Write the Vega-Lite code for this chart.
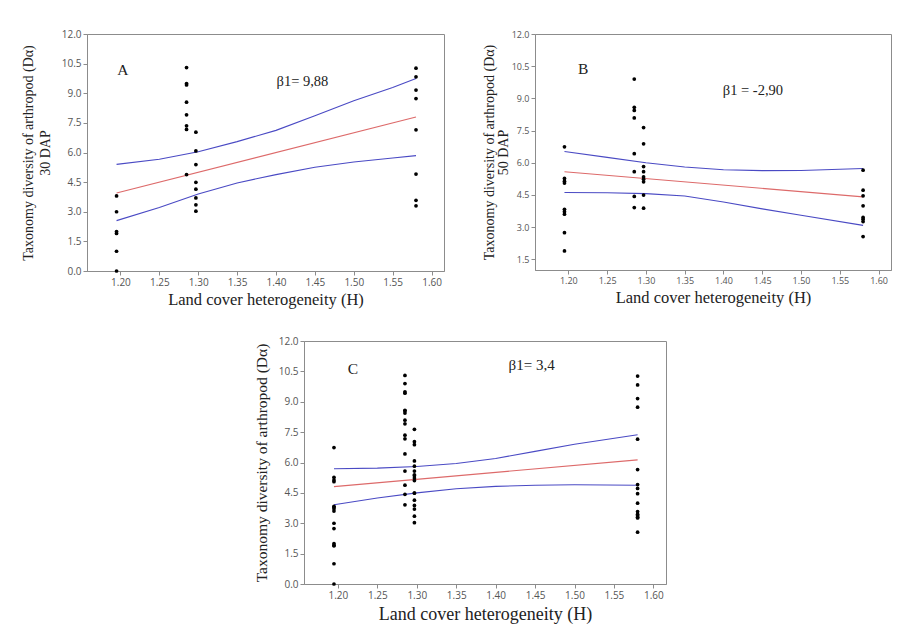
{
  "$schema": "https://vega.github.io/schema/vega-lite/v6.json",
  "background": "white",
  "padding": {"left": 20, "top": 28, "right": 5, "bottom": 5},
  "datasets": {
    "pts": [
      {"panel": "A", "H": 1.195, "D": 3.8}, {"panel": "A", "H": 1.195, "D": 3.0}, {"panel": "A", "H": 1.195, "D": 2.0}, {"panel": "A", "H": 1.195, "D": 1.9}, {"panel": "A", "H": 1.195, "D": 1.0}, {"panel": "A", "H": 1.195, "D": 0.0},
      {"panel": "A", "H": 1.285, "D": 10.3}, {"panel": "A", "H": 1.285, "D": 9.49}, {"panel": "A", "H": 1.285, "D": 9.42}, {"panel": "A", "H": 1.285, "D": 8.55}, {"panel": "A", "H": 1.285, "D": 7.91}, {"panel": "A", "H": 1.285, "D": 7.35}, {"panel": "A", "H": 1.285, "D": 7.17}, {"panel": "A", "H": 1.285, "D": 4.88},
      {"panel": "A", "H": 1.297, "D": 7.03}, {"panel": "A", "H": 1.297, "D": 6.08}, {"panel": "A", "H": 1.297, "D": 5.39}, {"panel": "A", "H": 1.297, "D": 4.49}, {"panel": "A", "H": 1.297, "D": 4.14}, {"panel": "A", "H": 1.297, "D": 3.7}, {"panel": "A", "H": 1.297, "D": 3.35}, {"panel": "A", "H": 1.297, "D": 3.03},
      {"panel": "A", "H": 1.58, "D": 10.27}, {"panel": "A", "H": 1.58, "D": 9.83}, {"panel": "A", "H": 1.58, "D": 9.16}, {"panel": "A", "H": 1.58, "D": 8.73}, {"panel": "A", "H": 1.58, "D": 7.15}, {"panel": "A", "H": 1.58, "D": 4.91}, {"panel": "A", "H": 1.58, "D": 3.58}, {"panel": "A", "H": 1.58, "D": 3.3},
      {"panel": "B", "H": 1.195, "D": 6.74}, {"panel": "B", "H": 1.195, "D": 5.27}, {"panel": "B", "H": 1.195, "D": 5.14}, {"panel": "B", "H": 1.195, "D": 5.05}, {"panel": "B", "H": 1.195, "D": 3.83}, {"panel": "B", "H": 1.195, "D": 3.72}, {"panel": "B", "H": 1.195, "D": 3.6}, {"panel": "B", "H": 1.195, "D": 2.74}, {"panel": "B", "H": 1.195, "D": 1.89},
      {"panel": "B", "H": 1.285, "D": 9.9}, {"panel": "B", "H": 1.285, "D": 8.58}, {"panel": "B", "H": 1.285, "D": 8.44}, {"panel": "B", "H": 1.285, "D": 8.09}, {"panel": "B", "H": 1.285, "D": 6.42}, {"panel": "B", "H": 1.285, "D": 5.58}, {"panel": "B", "H": 1.285, "D": 4.43}, {"panel": "B", "H": 1.285, "D": 3.91},
      {"panel": "B", "H": 1.297, "D": 7.64}, {"panel": "B", "H": 1.297, "D": 6.88}, {"panel": "B", "H": 1.297, "D": 5.82}, {"panel": "B", "H": 1.297, "D": 5.58}, {"panel": "B", "H": 1.297, "D": 5.34}, {"panel": "B", "H": 1.297, "D": 5.23}, {"panel": "B", "H": 1.297, "D": 5.11}, {"panel": "B", "H": 1.297, "D": 4.49}, {"panel": "B", "H": 1.297, "D": 3.88},
      {"panel": "B", "H": 1.58, "D": 5.65}, {"panel": "B", "H": 1.58, "D": 4.72}, {"panel": "B", "H": 1.58, "D": 4.46}, {"panel": "B", "H": 1.58, "D": 3.99}, {"panel": "B", "H": 1.58, "D": 3.45}, {"panel": "B", "H": 1.58, "D": 3.37}, {"panel": "B", "H": 1.58, "D": 3.26}, {"panel": "B", "H": 1.58, "D": 2.56}
    ],
    "lines": [
      {"panel": "A", "series": "fit", "H": 1.195, "D": 3.95}, {"panel": "A", "series": "fit", "H": 1.58, "D": 7.8},
      {"panel": "A", "series": "upper", "H": 1.195, "D": 5.4}, {"panel": "A", "series": "upper", "H": 1.25, "D": 5.66}, {"panel": "A", "series": "upper", "H": 1.3, "D": 6.04}, {"panel": "A", "series": "upper", "H": 1.35, "D": 6.55}, {"panel": "A", "series": "upper", "H": 1.4, "D": 7.12}, {"panel": "A", "series": "upper", "H": 1.45, "D": 7.86}, {"panel": "A", "series": "upper", "H": 1.5, "D": 8.62}, {"panel": "A", "series": "upper", "H": 1.55, "D": 9.29}, {"panel": "A", "series": "upper", "H": 1.58, "D": 9.75},
      {"panel": "A", "series": "lower", "H": 1.195, "D": 2.55}, {"panel": "A", "series": "lower", "H": 1.25, "D": 3.22}, {"panel": "A", "series": "lower", "H": 1.3, "D": 3.9}, {"panel": "A", "series": "lower", "H": 1.35, "D": 4.46}, {"panel": "A", "series": "lower", "H": 1.4, "D": 4.88}, {"panel": "A", "series": "lower", "H": 1.45, "D": 5.25}, {"panel": "A", "series": "lower", "H": 1.5, "D": 5.52}, {"panel": "A", "series": "lower", "H": 1.55, "D": 5.72}, {"panel": "A", "series": "lower", "H": 1.58, "D": 5.84},
      {"panel": "B", "series": "fit", "H": 1.195, "D": 5.58}, {"panel": "B", "series": "fit", "H": 1.58, "D": 4.41},
      {"panel": "B", "series": "upper", "H": 1.195, "D": 6.52}, {"panel": "B", "series": "upper", "H": 1.25, "D": 6.25}, {"panel": "B", "series": "upper", "H": 1.3, "D": 6.0}, {"panel": "B", "series": "upper", "H": 1.35, "D": 5.8}, {"panel": "B", "series": "upper", "H": 1.4, "D": 5.67}, {"panel": "B", "series": "upper", "H": 1.45, "D": 5.63}, {"panel": "B", "series": "upper", "H": 1.5, "D": 5.64}, {"panel": "B", "series": "upper", "H": 1.58, "D": 5.73},
      {"panel": "B", "series": "lower", "H": 1.195, "D": 4.61}, {"panel": "B", "series": "lower", "H": 1.25, "D": 4.6}, {"panel": "B", "series": "lower", "H": 1.3, "D": 4.56}, {"panel": "B", "series": "lower", "H": 1.35, "D": 4.45}, {"panel": "B", "series": "lower", "H": 1.4, "D": 4.17}, {"panel": "B", "series": "lower", "H": 1.45, "D": 3.85}, {"panel": "B", "series": "lower", "H": 1.5, "D": 3.55}, {"panel": "B", "series": "lower", "H": 1.58, "D": 3.08},
      {"panel": "C", "series": "fit", "H": 1.195, "D": 4.81}, {"panel": "C", "series": "fit", "H": 1.58, "D": 6.13},
      {"panel": "C", "series": "upper", "H": 1.195, "D": 5.69}, {"panel": "C", "series": "upper", "H": 1.25, "D": 5.72}, {"panel": "C", "series": "upper", "H": 1.3, "D": 5.8}, {"panel": "C", "series": "upper", "H": 1.35, "D": 5.95}, {"panel": "C", "series": "upper", "H": 1.4, "D": 6.2}, {"panel": "C", "series": "upper", "H": 1.45, "D": 6.55}, {"panel": "C", "series": "upper", "H": 1.5, "D": 6.9}, {"panel": "C", "series": "upper", "H": 1.58, "D": 7.37},
      {"panel": "C", "series": "lower", "H": 1.195, "D": 3.91}, {"panel": "C", "series": "lower", "H": 1.25, "D": 4.25}, {"panel": "C", "series": "lower", "H": 1.3, "D": 4.5}, {"panel": "C", "series": "lower", "H": 1.35, "D": 4.7}, {"panel": "C", "series": "lower", "H": 1.4, "D": 4.82}, {"panel": "C", "series": "lower", "H": 1.45, "D": 4.88}, {"panel": "C", "series": "lower", "H": 1.5, "D": 4.9}, {"panel": "C", "series": "lower", "H": 1.58, "D": 4.88}
    ]
  },
  "config": {
    "view": {"stroke": "#8c8c8c", "strokeWidth": 1},
    "axis": {
      "grid": false, "labelOverlap": false, "labelSeparation": -8,
      "labelFont": "Open Sans", "labelFontSize": 10, "labelColor": "#555555",
      "tickColor": "#8c8c8c", "domainColor": "#8c8c8c", "tickSize": 4, "labelPadding": 2,
      "titleFont": "Liberation Serif", "titleFontWeight": "normal", "titleColor": "#222222", "titleFontSize": 14
    },
    "axisY": {"labelOverlap": false},
    "line": {"strokeWidth": 1.1},
    "text": {"font": "Liberation Serif", "color": "#222222"}
  },
  "spacing": 27,
  "vconcat": [
    {
      "spacing": 36,
      "hconcat": [
        {
          "width": 357, "height": 237,
          "layer": [
            {
              "encoding": {
                "x": {"field": "H", "type": "quantitative", "scale": {"domain": [1.157, 1.616], "nice": false, "zero": false},
                      "axis": {"values": [1.2, 1.25, 1.3, 1.35, 1.4, 1.45, 1.5, 1.55, 1.6], "format": ".2f", "labelOverlap": false, "title": "Land cover heterogeneity (H)", "titleFontSize": 16.5, "titlePadding": 4}},
                "y": {"field": "D", "type": "quantitative", "scale": {"domain": [0, 12], "nice": false},
                      "axis": {"values": [0, 1.5, 3, 4.5, 6, 7.5, 9, 10.5, 12], "format": ".1f", "labelOverlap": false, "title": ["Taxonomy diversity of arthropod (Dα)", "30 DAP"], "titlePadding": 9, "titleLineHeight": 17}}
              },
              "layer": [
                {
                  "data": {"name": "lines"},
                  "transform": [{"filter": "datum.panel === 'A'"}],
                  "mark": "line",
                  "encoding": {
                    "color": {"field": "series", "type": "nominal", "scale": {"domain": ["fit", "upper", "lower"], "range": ["#dd6a6a", "#4a4ac4", "#4a4ac4"]}, "legend": null},
                    "detail": {"field": "series"}
                  }
                },
                {
                  "data": {"name": "pts"},
                  "transform": [{"filter": "datum.panel === 'A'"}],
                  "mark": {"type": "circle", "size": 14, "color": "black", "opacity": 1}
                }
              ]
            },
            {
              "data": {"values": [{}]},
              "mark": {"type": "text", "fontSize": 15.5, "align": "center", "baseline": "middle"},
              "encoding": {
                "x": {"datum": 1.203, "type": "quantitative", "axis": {"values": [1.2, 1.25, 1.3, 1.35, 1.4, 1.45, 1.5, 1.55, 1.6], "format": ".2f", "labelOverlap": false, "title": "Land cover heterogeneity (H)", "titleFontSize": 16.5, "titlePadding": 4}},
                "y": {"datum": 10.2, "type": "quantitative", "axis": {"values": [0, 1.5, 3, 4.5, 6, 7.5, 9, 10.5, 12], "format": ".1f", "labelOverlap": false, "title": ["Taxonomy diversity of arthropod (Dα)", "30 DAP"], "titlePadding": 9, "titleLineHeight": 17}},
                "text": {"value": "A"}
              }
            },
            {
              "data": {"values": [{}]},
              "mark": {"type": "text", "fontSize": 14.5, "align": "center", "baseline": "middle"},
              "encoding": {
                "x": {"datum": 1.434, "type": "quantitative", "axis": {"values": [1.2, 1.25, 1.3, 1.35, 1.4, 1.45, 1.5, 1.55, 1.6], "format": ".2f", "labelOverlap": false, "title": "Land cover heterogeneity (H)", "titleFontSize": 16.5, "titlePadding": 4}},
                "y": {"datum": 9.55, "type": "quantitative", "axis": {"values": [0, 1.5, 3, 4.5, 6, 7.5, 9, 10.5, 12], "format": ".1f", "labelOverlap": false, "title": ["Taxonomy diversity of arthropod (Dα)", "30 DAP"], "titlePadding": 9, "titleLineHeight": 17}},
                "text": {"value": "β1= 9,88"}
              }
            }
          ]
        },
        {
          "width": 356, "height": 236,
          "layer": [
            {
              "encoding": {
                "x": {"field": "H", "type": "quantitative", "scale": {"domain": [1.157, 1.616], "nice": false, "zero": false},
                      "axis": {"values": [1.2, 1.25, 1.3, 1.35, 1.4, 1.45, 1.5, 1.55, 1.6], "format": ".2f", "labelOverlap": false, "title": "Land cover heterogeneity (H)", "titleFontSize": 16.5, "titlePadding": 4, "labelFontSize": 9}},
                "y": {"field": "D", "type": "quantitative", "scale": {"domain": [1, 12], "nice": false, "zero": false},
                      "axis": {"values": [1.5, 3, 4.5, 6, 7.5, 9, 10.5, 12], "format": ".1f", "labelOverlap": false, "title": ["Taxonomy diversity of arthropod (Dα)", "50 DAP"], "titlePadding": 1, "titleLineHeight": 14, "labelFontSize": 9}}
              },
              "layer": [
                {
                  "data": {"name": "lines"},
                  "transform": [{"filter": "datum.panel === 'B'"}],
                  "mark": "line",
                  "encoding": {
                    "color": {"field": "series", "type": "nominal", "scale": {"domain": ["fit", "upper", "lower"], "range": ["#dd6a6a", "#4a4ac4", "#4a4ac4"]}, "legend": null},
                    "detail": {"field": "series"}
                  }
                },
                {
                  "data": {"name": "pts"},
                  "transform": [{"filter": "datum.panel === 'B'"}],
                  "mark": {"type": "circle", "size": 14, "color": "black", "opacity": 1}
                }
              ]
            },
            {
              "data": {"values": [{}]},
              "mark": {"type": "text", "fontSize": 15.5, "align": "center", "baseline": "middle"},
              "encoding": {
                "x": {"datum": 1.219, "type": "quantitative", "axis": {"values": [1.2, 1.25, 1.3, 1.35, 1.4, 1.45, 1.5, 1.55, 1.6], "format": ".2f", "labelOverlap": false, "title": "Land cover heterogeneity (H)", "titleFontSize": 16.5, "titlePadding": 4, "labelFontSize": 9}},
                "y": {"datum": 10.37, "type": "quantitative", "axis": {"values": [1.5, 3, 4.5, 6, 7.5, 9, 10.5, 12], "format": ".1f", "labelOverlap": false, "title": ["Taxonomy diversity of arthropod (Dα)", "50 DAP"], "titlePadding": 1, "titleLineHeight": 14, "labelFontSize": 9}},
                "text": {"value": "B"}
              }
            },
            {
              "data": {"values": [{}]},
              "mark": {"type": "text", "fontSize": 14.5, "align": "center", "baseline": "middle"},
              "encoding": {
                "x": {"datum": 1.438, "type": "quantitative", "axis": {"values": [1.2, 1.25, 1.3, 1.35, 1.4, 1.45, 1.5, 1.55, 1.6], "format": ".2f", "labelOverlap": false, "title": "Land cover heterogeneity (H)", "titleFontSize": 16.5, "titlePadding": 4, "labelFontSize": 9}},
                "y": {"datum": 9.36, "type": "quantitative", "axis": {"values": [1.5, 3, 4.5, 6, 7.5, 9, 10.5, 12], "format": ".1f", "labelOverlap": false, "title": ["Taxonomy diversity of arthropod (Dα)", "50 DAP"], "titlePadding": 1, "titleLineHeight": 14, "labelFontSize": 9}},
                "text": {"value": "β1 = -2,90"}
              }
            }
          ]
        }
      ]
    },
    {
      "spacing": 0,
      "hconcat": [
        {
          "width": 166, "height": 10,
          "view": {"stroke": null},
          "data": {"values": [{}]},
          "mark": {"type": "point", "opacity": 0}
        },
        {
          "width": 362, "height": 243,
          "layer": [
            {
              "encoding": {
                "x": {"field": "H", "type": "quantitative", "scale": {"domain": [1.157, 1.616], "nice": false, "zero": false},
                      "axis": {"values": [1.2, 1.25, 1.3, 1.35, 1.4, 1.45, 1.5, 1.55, 1.6], "format": ".2f", "labelOverlap": false, "title": "Land cover heterogeneity (H)", "titleFontSize": 18, "titlePadding": 5}},
                "y": {"field": "D", "type": "quantitative", "scale": {"domain": [0, 12], "nice": false},
                      "axis": {"values": [0, 1.5, 3, 4.5, 6, 7.5, 9, 10.5, 12], "format": ".1f", "labelOverlap": false, "title": "Taxonomy diversity of arthropod (Dα)", "titleFontSize": 15.5, "titlePadding": 9}}
              },
              "layer": [
                {
                  "data": {"name": "lines"},
                  "transform": [{"filter": "datum.panel === 'C'"}],
                  "mark": "line",
                  "encoding": {
                    "color": {"field": "series", "type": "nominal", "scale": {"domain": ["fit", "upper", "lower"], "range": ["#dd6a6a", "#4a4ac4", "#4a4ac4"]}, "legend": null},
                    "detail": {"field": "series"}
                  }
                },
                {
                  "data": {"name": "pts"},
                  "mark": {"type": "circle", "size": 14, "color": "black", "opacity": 1}
                }
              ]
            },
            {
              "data": {"values": [{}]},
              "mark": {"type": "text", "fontSize": 15.5, "align": "center", "baseline": "middle"},
              "encoding": {
                "x": {"datum": 1.219, "type": "quantitative", "axis": {"values": [1.2, 1.25, 1.3, 1.35, 1.4, 1.45, 1.5, 1.55, 1.6], "format": ".2f", "labelOverlap": false, "title": "Land cover heterogeneity (H)", "titleFontSize": 18, "titlePadding": 5}},
                "y": {"datum": 10.63, "type": "quantitative", "axis": {"values": [0, 1.5, 3, 4.5, 6, 7.5, 9, 10.5, 12], "format": ".1f", "labelOverlap": false, "title": "Taxonomy diversity of arthropod (Dα)", "titleFontSize": 15.5, "titlePadding": 9}},
                "text": {"value": "C"}
              }
            },
            {
              "data": {"values": [{}]},
              "mark": {"type": "text", "fontSize": 15, "align": "center", "baseline": "middle"},
              "encoding": {
                "x": {"datum": 1.4456, "type": "quantitative", "axis": {"values": [1.2, 1.25, 1.3, 1.35, 1.4, 1.45, 1.5, 1.55, 1.6], "format": ".2f", "labelOverlap": false, "title": "Land cover heterogeneity (H)", "titleFontSize": 18, "titlePadding": 5}},
                "y": {"datum": 10.8, "type": "quantitative", "axis": {"values": [0, 1.5, 3, 4.5, 6, 7.5, 9, 10.5, 12], "format": ".1f", "labelOverlap": false, "title": "Taxonomy diversity of arthropod (Dα)", "titleFontSize": 15.5, "titlePadding": 9}},
                "text": {"value": "β1= 3,4"}
              }
            }
          ]
        }
      ]
    }
  ]
}
